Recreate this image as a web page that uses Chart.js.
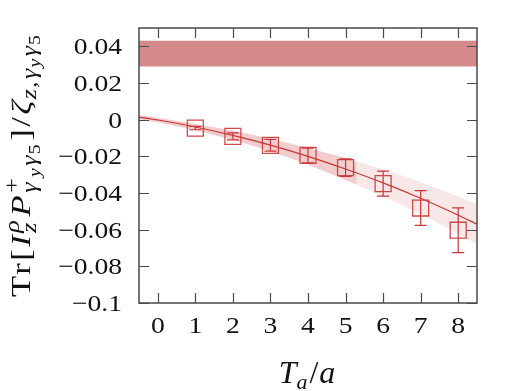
<!DOCTYPE html>
<html>
<head>
<meta charset="utf-8">
<script src="https://cdn.jsdelivr.net/npm/chart.js"></script>
<style>
  html, body { margin: 0; padding: 0; background: #fff; }
  #wrap { width: 523px; height: 391px; }
</style>
</head>
<body>
<div id="wrap"><canvas id="c" width="523" height="391"></canvas></div>
<script>
// lattice points
const xs = [1, 2, 3, 4, 5, 6, 7, 8];
const yVals = [-0.0046, -0.0091, -0.0140, -0.0195, -0.0262, -0.0349, -0.0482, -0.0603];
const yErrs = [0.0009, 0.0019, 0.0032, 0.0040, 0.0048, 0.0068, 0.0095, 0.0122];

// fit curve and its error band (dark part up to 5.3, light after)
const fitX = [-0.5, 0, 1, 2, 3, 4, 5, 5.3, 6, 7, 8, 8.5];
const fitY = [0.0014, -0.0002, -0.0040, -0.0086, -0.0139, -0.0200, -0.0269, -0.0291, -0.0345, -0.0429, -0.0521, -0.0570];
const fitErr = [0.0012, 0.0013, 0.0018, 0.0025, 0.0035, 0.0046, 0.0060, 0.0064, 0.0074, 0.0088, 0.0102, 0.0109];
const darkEnd = 5.3;

// horizontal reference band
const refLow = 0.029;
const refHigh = 0.043;

// axes
const xMin = -0.5, xMax = 8.5;
const yMin = -0.1, yMax = 0.05;
const xTicks = [0, 1, 2, 3, 4, 5, 6, 7, 8];
const yTicks = [-0.1, -0.08, -0.06, -0.04, -0.02, 0, 0.02, 0.04];
const yTickLabels = ['\u22120.1', '\u22120.08', '\u22120.06', '\u22120.04', '\u22120.02', '0', '0.02', '0.04'];

const RED = 'rgb(200,55,55)';
const SERIF = '"Liberation Serif", "DejaVu Serif", serif';

const pts = (xa, ya) => xa.map((x, i) => ({ x: x, y: ya[i] }));
const darkX = fitX.filter(x => x <= darkEnd);
const lightX = fitX.filter(x => x >= darkEnd);
const band = (sel, sign) => sel.map(x => {
  const i = fitX.indexOf(x);
  return { x: x, y: fitY[i] + sign * fitErr[i] };
});

function drawRuns(ctx, runs, x, y, measureOnly) {
  let cx = x, held = null;
  for (const r of runs) {
    ctx.font = (r.i ? 'italic ' : '') + r.s + 'px ' + SERIF;
    const w = ctx.measureText(r.t).width;
    if (!measureOnly) ctx.fillText(r.t, cx, y + (r.dy || 0));
    if (r.hold) { held = w; continue; }
    cx += (held !== null ? Math.max(w, held) : w) + (r.gap || 0);
    held = null;
  }
  return cx - x;
}

const yTitle = [
  { t: 'T', s: 28, gap: 1 },
  { t: 'r', s: 28, gap: 2 },
  { t: '[', s: 28, gap: 2 },
  { t: 'I', s: 28, i: true, gap: 2 },
  { t: '\u03c1', s: 21, i: true, dy: -11, hold: true },
  { t: 'z', s: 21, i: true, dy: 6, gap: 3 },
  { t: 'P', s: 28, i: true, gap: 2 },
  { t: '+', s: 21, dy: -11, hold: true },
  { t: '\u03b3', s: 21, i: true, dy: 6, gap: 1 },
  { t: 'y', s: 16, i: true, dy: 10, gap: 2 },
  { t: '\u03b3', s: 21, i: true, dy: 6, gap: 1 },
  { t: '5', s: 16, dy: 10, gap: 3 },
  { t: ']', s: 28, gap: 2 },
  { t: '/', s: 28, gap: 2 },
  { t: '\u03b6', s: 28, i: true, gap: 1 },
  { t: 'z', s: 21, i: true, dy: 6, gap: 1 },
  { t: ',', s: 21, dy: 6, gap: 2 },
  { t: '\u03b3', s: 21, i: true, dy: 6, gap: 1 },
  { t: 'y', s: 16, i: true, dy: 10, gap: 2 },
  { t: '\u03b3', s: 21, i: true, dy: 6, gap: 1 },
  { t: '5', s: 16, dy: 10 }
];
const xTitle = [
  { t: 'T', s: 32, i: true },
  { t: 'a', s: 22, i: true, dy: 6, gap: 2 },
  { t: '/', s: 32, gap: 1 },
  { t: 'a', s: 32, i: true }
];
const yTitleLen = 262;

const decor = {
  id: 'decor',
  afterDatasetsDraw(chart) {
    const ctx = chart.ctx;
    const xs_ = chart.scales.x, ys_ = chart.scales.y;
    // error bars
    ctx.save();
    ctx.strokeStyle = RED;
    ctx.lineWidth = 1.2;
    xs.forEach((x, i) => {
      const px = xs_.getPixelForValue(x);
      const t = ys_.getPixelForValue(yVals[i] + yErrs[i]);
      const b = ys_.getPixelForValue(yVals[i] - yErrs[i]);
      ctx.beginPath();
      ctx.moveTo(px, t); ctx.lineTo(px, b);
      ctx.moveTo(px - 6, t); ctx.lineTo(px + 6, t);
      ctx.moveTo(px - 6, b); ctx.lineTo(px + 6, b);
      ctx.stroke();
    });
    ctx.restore();
  },
  afterDraw(chart) {
    const ctx = chart.ctx;
    const a = chart.chartArea;
    const xs_ = chart.scales.x, ys_ = chart.scales.y;
    ctx.save();
    ctx.strokeStyle = '#4a4a4a';
    ctx.lineWidth = 1.5;
    ctx.strokeRect(a.left, a.top, a.right - a.left, a.bottom - a.top);
    ctx.lineWidth = 1.2;
    ctx.beginPath();
    xTicks.forEach(v => {
      const p = Math.round(xs_.getPixelForValue(v)) + 0.5;
      ctx.moveTo(p, a.bottom); ctx.lineTo(p, a.bottom - 10);
      ctx.moveTo(p, a.top); ctx.lineTo(p, a.top + 10);
    });
    yTicks.forEach(v => {
      const p = Math.round(ys_.getPixelForValue(v)) + 0.5;
      ctx.moveTo(a.left, p); ctx.lineTo(a.left + 10, p);
      ctx.moveTo(a.right, p); ctx.lineTo(a.right - 10, p);
    });
    ctx.stroke();

    // tick labels, a little wider than the font gives
    ctx.fillStyle = '#111';
    ctx.font = '24px ' + SERIF;
    ctx.textBaseline = 'alphabetic';
    ctx.textAlign = 'right';
    yTicks.forEach((v, i) => {
      ctx.save();
      ctx.translate(a.left - 17, ys_.getPixelForValue(v) + 8);
      ctx.scale(1.15, 1);
      ctx.fillText(yTickLabels[i], 0, 0);
      ctx.restore();
    });
    ctx.textAlign = 'center';
    xTicks.forEach(v => {
      ctx.save();
      ctx.translate(xs_.getPixelForValue(v), 333);
      ctx.scale(1.15, 1);
      ctx.fillText(String(v), 0, 0);
      ctx.restore();
    });

    ctx.textAlign = 'left';
    const wx = drawRuns(ctx, xTitle, 0, 0, true);
    drawRuns(ctx, xTitle, 307 - wx / 2, 383);

    const wy = drawRuns(ctx, yTitle, 0, 0, true);
    ctx.translate(30, 166);
    ctx.rotate(-Math.PI / 2);
    ctx.scale(yTitleLen / wy, 1);
    drawRuns(ctx, yTitle, -wy / 2, 0);
    ctx.restore();
  }
};

const flat = { pointRadius: 0, borderWidth: 0, tension: 0 };

new Chart(document.getElementById('c'), {
  type: 'line',
  data: {
    datasets: [
      Object.assign({ data: [{ x: xMin, y: refHigh }, { x: xMax, y: refHigh }], fill: '+1', backgroundColor: '#d48a8a', order: 5 }, flat),
      Object.assign({ data: [{ x: xMin, y: refLow }, { x: xMax, y: refLow }], fill: false, order: 5 }, flat),
      Object.assign({ data: band(darkX, 1), fill: '+1', backgroundColor: 'rgba(200,55,55,0.25)', cubicInterpolationMode: 'monotone', order: 4 }, flat),
      Object.assign({ data: band(darkX, -1), fill: false, cubicInterpolationMode: 'monotone', order: 4 }, flat),
      Object.assign({ data: band(lightX, 1), fill: '+1', backgroundColor: 'rgba(200,55,55,0.12)', cubicInterpolationMode: 'monotone', order: 4 }, flat),
      Object.assign({ data: band(lightX, -1), fill: false, cubicInterpolationMode: 'monotone', order: 4 }, flat),
      {
        data: pts(fitX, fitY), borderColor: RED, borderWidth: 1.2, pointRadius: 0,
        cubicInterpolationMode: 'monotone', fill: false, order: 2
      },
      {
        data: pts(xs, yVals), showLine: false, pointStyle: 'rect', pointRadius: 11.3,
        pointBorderColor: 'rgba(200,55,55,0.9)', pointBackgroundColor: 'rgba(255,255,255,0)',
        pointBorderWidth: 1.3, order: 0
      }
    ]
  },
  options: {
    responsive: false,
    animation: false,
    events: [],
    layout: { padding: { left: 139, top: 28, right: 46, bottom: 88 } },
    plugins: { legend: { display: false }, tooltip: { enabled: false } },
    scales: {
      x: { type: 'linear', min: xMin, max: xMax, display: false },
      y: { type: 'linear', min: yMin, max: yMax, display: false }
    }
  },
  plugins: [decor]
});
</script>
</body>
</html>
